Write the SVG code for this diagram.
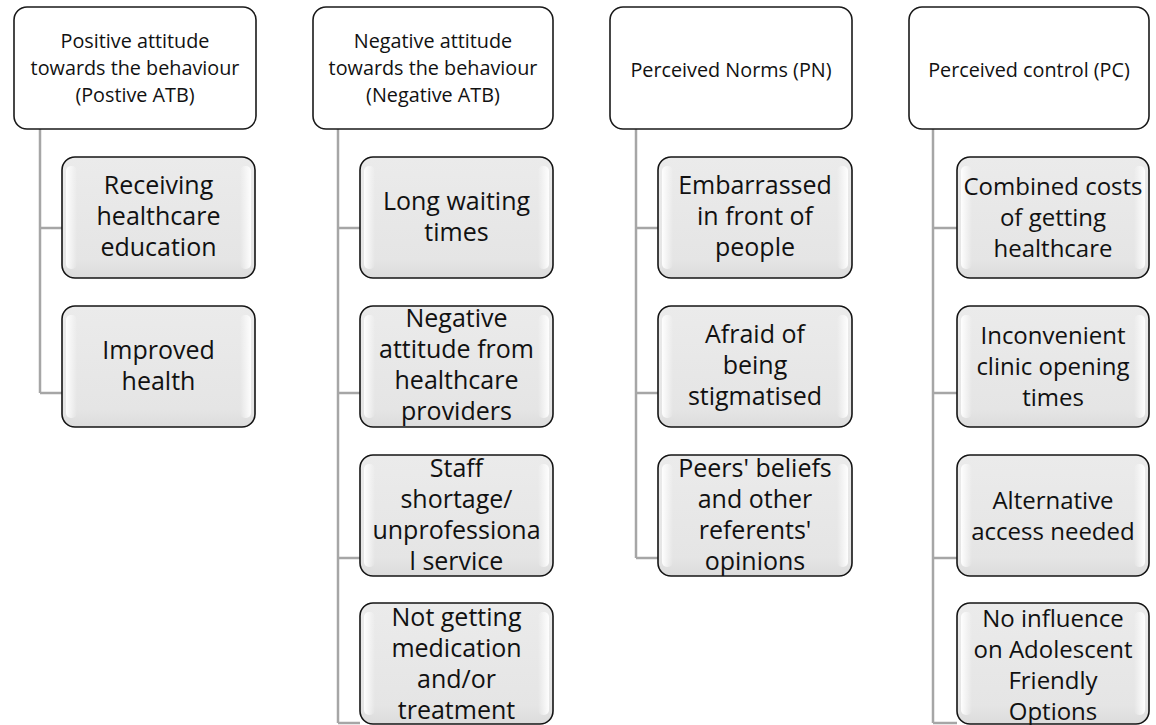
<svg xmlns="http://www.w3.org/2000/svg" width="1156" height="725" viewBox="0 0 1156 725">
<defs>
<linearGradient id="hl" x1="0" y1="0" x2="1" y2="0">
<stop offset="0" stop-color="#ffffff" stop-opacity="0.95"/>
<stop offset="1" stop-color="#ffffff" stop-opacity="0"/>
</linearGradient>
<linearGradient id="hr" x1="1" y1="0" x2="0" y2="0">
<stop offset="0" stop-color="#ffffff" stop-opacity="0.95"/>
<stop offset="1" stop-color="#ffffff" stop-opacity="0"/>
</linearGradient>
<linearGradient id="fillg" x1="0" y1="0" x2="0" y2="1">
<stop offset="0" stop-color="#ebebeb"/>
<stop offset="0.85" stop-color="#e5e5e5"/>
<stop offset="1" stop-color="#dcdcdc"/>
</linearGradient>
</defs>
<style>
.hdr{fill:#ffffff;stroke:#1a1a1a;stroke-width:1.6}
.box{fill:url(#fillg);stroke:#151515;stroke-width:1.6}
.hl{fill:url(#hl)}
.hr{fill:url(#hr)}
.ht{font-family:"Open Sans","Liberation Sans",sans-serif;font-size:19.8px;fill:#111;text-anchor:middle}
.ct{font-family:"Open Sans","Liberation Sans",sans-serif;font-size:25px;fill:#111;text-anchor:middle}
.c4{font-size:24px}
.con{fill:none;stroke:#a6a6a6;stroke-width:2.5}
</style>
<rect width="1156" height="725" fill="#ffffff"/>

<g id="connectors">
<path class="con" d="M40,129 V393 M40,228 H62 M40,393 H62"/>
<path class="con" d="M338,129 V723 M338,228 H360 M338,393 H360 M338,558 H360 M338,723 H360"/>
<path class="con" d="M636,129 V558 M636,228 H658 M636,393 H658 M636,558 H658"/>
<path class="con" d="M933,129 V723 M933,228 H957 M933,393 H957 M933,558 H957 M933,723 H957"/>
</g>

<!-- Headers -->
<g id="h1">
<rect class="hdr" x="14" y="7" width="242" height="122" rx="13"/>
<text class="ht" x="135" y="48">Positive attitude</text>
<text class="ht" x="135" y="75">towards the behaviour</text>
<text class="ht" x="135" y="102">(Postive ATB)</text>
</g>
<g id="h2">
<rect class="hdr" x="313" y="7" width="240" height="122" rx="13"/>
<text class="ht" x="433" y="48">Negative attitude</text>
<text class="ht" x="433" y="75">towards the behaviour</text>
<text class="ht" x="433" y="102">(Negative ATB)</text>
</g>
<g id="h3">
<rect class="hdr" x="610" y="7" width="242" height="122" rx="13"/>
<text class="ht" x="731" y="77">Perceived Norms (PN)</text>
</g>
<g id="h4">
<rect class="hdr" x="909" y="7" width="240" height="122" rx="13"/>
<text class="ht" x="1029" y="77">Perceived control (PC)</text>
</g>

<!-- Column 1 children -->
<g id="c1a">
<rect class="box" x="62" y="157" width="193" height="121" rx="13"/>
<rect class="hl" x="66" y="166" width="11" height="103" rx="5"/>
<rect class="hr" x="240" y="166" width="11" height="103" rx="5"/>
<text class="ct" x="158.5" y="194">Receiving</text>
<text class="ct" x="158.5" y="225">healthcare</text>
<text class="ct" x="158.5" y="256">education</text>
</g>
<g id="c1b">
<rect class="box" x="62" y="306" width="193" height="121" rx="13"/>
<rect class="hl" x="66" y="315" width="11" height="103" rx="5"/>
<rect class="hr" x="240" y="315" width="11" height="103" rx="5"/>
<text class="ct" x="158.5" y="359">Improved</text>
<text class="ct" x="158.5" y="390">health</text>
</g>

<!-- Column 2 children -->
<g id="c2a">
<rect class="box" x="360" y="157" width="193" height="121" rx="13"/>
<rect class="hl" x="364" y="166" width="11" height="103" rx="5"/>
<rect class="hr" x="538" y="166" width="11" height="103" rx="5"/>
<text class="ct" x="456.5" y="210">Long waiting</text>
<text class="ct" x="456.5" y="241">times</text>
</g>
<g id="c2b">
<rect class="box" x="360" y="306" width="193" height="121" rx="13"/>
<rect class="hl" x="364" y="315" width="11" height="103" rx="5"/>
<rect class="hr" x="538" y="315" width="11" height="103" rx="5"/>
<text class="ct" x="456.5" y="327">Negative</text>
<text class="ct" x="456.5" y="358">attitude from</text>
<text class="ct" x="456.5" y="389">healthcare</text>
<text class="ct" x="456.5" y="420">providers</text>
</g>
<g id="c2c">
<rect class="box" x="360" y="455" width="193" height="121" rx="13"/>
<rect class="hl" x="364" y="464" width="11" height="103" rx="5"/>
<rect class="hr" x="538" y="464" width="11" height="103" rx="5"/>
<text class="ct" x="456.5" y="477">Staff</text>
<text class="ct" x="456.5" y="508">shortage/</text>
<text class="ct" x="456.5" y="539">unprofessiona</text>
<text class="ct" x="456.5" y="570">l service</text>
</g>
<g id="c2d">
<rect class="box" x="360" y="603" width="193" height="121" rx="13"/>
<rect class="hl" x="364" y="612" width="11" height="103" rx="5"/>
<rect class="hr" x="538" y="612" width="11" height="103" rx="5"/>
<text class="ct" x="456.5" y="626">Not getting</text>
<text class="ct" x="456.5" y="657">medication</text>
<text class="ct" x="456.5" y="688">and/or</text>
<text class="ct" x="456.5" y="719">treatment</text>
</g>

<!-- Column 3 children -->
<g id="c3a">
<rect class="box" x="658" y="157" width="194" height="121" rx="13"/>
<rect class="hl" x="662" y="166" width="11" height="103" rx="5"/>
<rect class="hr" x="837" y="166" width="11" height="103" rx="5"/>
<text class="ct" x="755" y="194">Embarrassed</text>
<text class="ct" x="755" y="225">in front of</text>
<text class="ct" x="755" y="256">people</text>
</g>
<g id="c3b">
<rect class="box" x="658" y="306" width="194" height="121" rx="13"/>
<rect class="hl" x="662" y="315" width="11" height="103" rx="5"/>
<rect class="hr" x="837" y="315" width="11" height="103" rx="5"/>
<text class="ct" x="755" y="343">Afraid of</text>
<text class="ct" x="755" y="374">being</text>
<text class="ct" x="755" y="405">stigmatised</text>
</g>
<g id="c3c">
<rect class="box" x="658" y="455" width="194" height="121" rx="13"/>
<rect class="hl" x="662" y="464" width="11" height="103" rx="5"/>
<rect class="hr" x="837" y="464" width="11" height="103" rx="5"/>
<text class="ct" x="755" y="477">Peers' beliefs</text>
<text class="ct" x="755" y="508">and other</text>
<text class="ct" x="755" y="539">referents'</text>
<text class="ct" x="755" y="570">opinions</text>
</g>

<!-- Column 4 children -->
<g id="c4a">
<rect class="box" x="957" y="157" width="192" height="121" rx="13"/>
<rect class="hl" x="961" y="166" width="11" height="103" rx="5"/>
<rect class="hr" x="1134" y="166" width="11" height="103" rx="5"/>
<text class="ct c4" x="1053" y="195">Combined costs</text>
<text class="ct c4" x="1053" y="226">of getting</text>
<text class="ct c4" x="1053" y="257">healthcare</text>
</g>
<g id="c4b">
<rect class="box" x="957" y="306" width="192" height="121" rx="13"/>
<rect class="hl" x="961" y="315" width="11" height="103" rx="5"/>
<rect class="hr" x="1134" y="315" width="11" height="103" rx="5"/>
<text class="ct c4" x="1053" y="344">Inconvenient</text>
<text class="ct c4" x="1053" y="375">clinic opening</text>
<text class="ct c4" x="1053" y="406">times</text>
</g>
<g id="c4c">
<rect class="box" x="957" y="455" width="192" height="121" rx="13"/>
<rect class="hl" x="961" y="464" width="11" height="103" rx="5"/>
<rect class="hr" x="1134" y="464" width="11" height="103" rx="5"/>
<text class="ct c4" x="1053" y="509">Alternative</text>
<text class="ct c4" x="1053" y="540">access needed</text>
</g>
<g id="c4d">
<rect class="box" x="957" y="603" width="192" height="121" rx="13"/>
<rect class="hl" x="961" y="612" width="11" height="103" rx="5"/>
<rect class="hr" x="1134" y="612" width="11" height="103" rx="5"/>
<text class="ct c4" x="1053" y="627">No influence</text>
<text class="ct c4" x="1053" y="658">on Adolescent</text>
<text class="ct c4" x="1053" y="689">Friendly</text>
<text class="ct c4" x="1053" y="720">Options</text>
</g>
</svg>
